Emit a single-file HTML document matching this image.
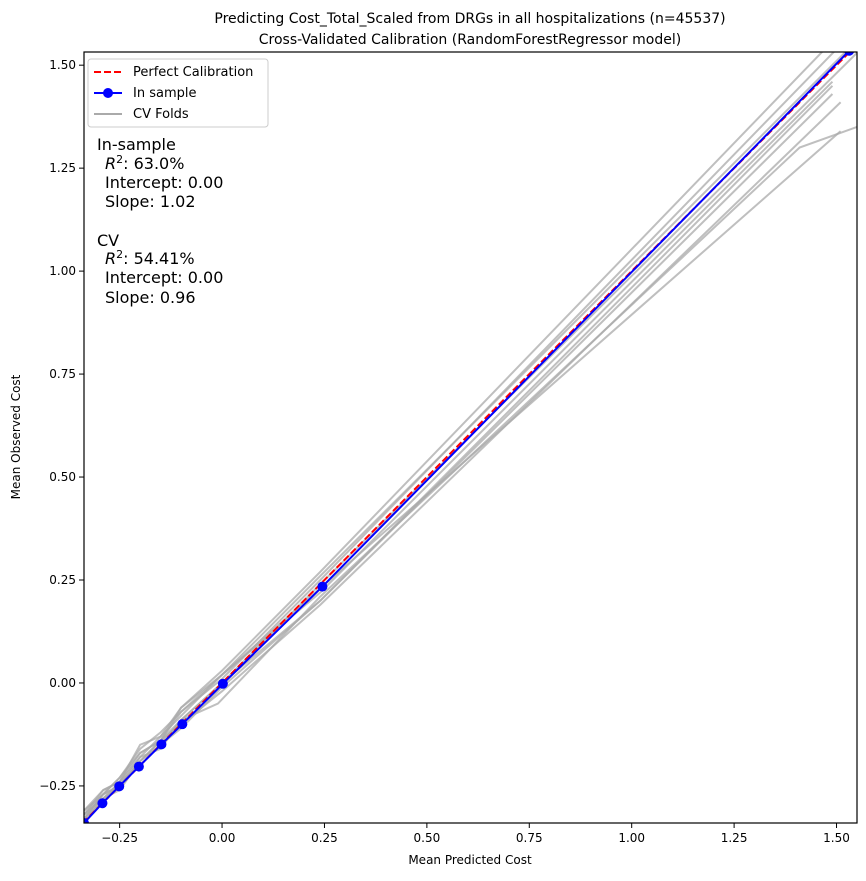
<!DOCTYPE html>
<html><head><meta charset="utf-8"><style>
body{margin:0;background:#fff;font-family:"Liberation Sans","DejaVu Sans",sans-serif}
svg text{font-family:"DejaVu Sans","Liberation Sans",sans-serif}
</style></head><body>
<svg id="chart" width="866" height="876" viewBox="0 0 866 876" xmlns="http://www.w3.org/2000/svg">
<g id="plot"></g>
</svg>
<script>
const xTicks=[-0.25,0,0.25,0.5,0.75,1.0,1.25,1.5];
const yTicks=[-0.25,0,0.25,0.5,0.75,1.0,1.25,1.5];
const xTickLabels=["−0.25","0.00","0.25","0.50","0.75","1.00","1.25","1.50"];
const yTickLabels=["−0.25","0.00","0.25","0.50","0.75","1.00","1.25","1.50"];
const inX=[-0.337,-0.292,-0.251,-0.203,-0.148,-0.097,0.002,0.245,1.531];
const inY=[-0.340,-0.292,-0.251,-0.203,-0.149,-0.100,-0.002,0.234,1.535];
const perfect=[-0.34,1.55];
const foldX=[
[-0.337,-0.29,-0.25,-0.2,-0.15,-0.1,0.0,0.24,1.55],
[-0.337,-0.29,-0.25,-0.2,-0.15,-0.1,0.0,0.24,1.55],
[-0.337,-0.29,-0.25,-0.2,-0.15,-0.1,0.0,0.24,1.55],
[-0.337,-0.29,-0.25,-0.2,-0.15,-0.1,0.0,0.24,1.49],
[-0.337,-0.29,-0.25,-0.2,-0.15,-0.1,0.0,0.24,1.49],
[-0.337,-0.29,-0.25,-0.2,-0.15,-0.1,0.0,0.24,1.51],
[-0.337,-0.29,-0.25,-0.2,-0.15,-0.1,-0.01,0.24,1.41,1.55],
[-0.337,-0.29,-0.25,-0.2,-0.15,-0.1,0.0,0.24,1.51],
[-0.337,-0.29,-0.25,-0.2,-0.15,-0.1,0.0,0.24,1.55],
[-0.337,-0.29,-0.25,-0.2,-0.15,-0.1,0.0,0.24,1.49]
];
const foldY=[
[-0.31,-0.26,-0.24,-0.15,-0.13,-0.06,0.03,0.27,1.62],
[-0.32,-0.27,-0.23,-0.17,-0.14,-0.07,0.01,0.25,1.59],
[-0.33,-0.28,-0.25,-0.19,-0.15,-0.09,0.0,0.24,1.53],
[-0.32,-0.26,-0.24,-0.18,-0.13,-0.08,0.02,0.22,1.46],
[-0.33,-0.29,-0.24,-0.2,-0.15,-0.11,-0.01,0.2,1.43],
[-0.34,-0.28,-0.26,-0.19,-0.14,-0.1,-0.02,0.19,1.41],
[-0.33,-0.27,-0.25,-0.18,-0.16,-0.09,-0.05,0.21,1.30,1.35],
[-0.32,-0.28,-0.24,-0.17,-0.14,-0.06,0.02,0.23,1.34],
[-0.31,-0.27,-0.23,-0.16,-0.12,-0.07,0.02,0.26,1.56],
[-0.33,-0.27,-0.25,-0.19,-0.14,-0.09,0.0,0.2,1.45]
];
const L=84,R=857,T=52,B=823,x0=-0.337,x1=1.55,y0=-0.340,y1=1.532;
const sx=v=>L+(v-x0)/(x1-x0)*(R-L);
const sy=v=>B-(v-y0)/(y1-y0)*(B-T);
const NS="http://www.w3.org/2000/svg";
const g=document.getElementById('plot');
function mk(tag,attrs,parent){const e=document.createElementNS(NS,tag);for(const k in attrs)e.setAttribute(k,attrs[k]);(parent||g).appendChild(e);return e;}
const defs=mk('defs',{});
const cp=mk('clipPath',{id:'clip'},defs);mk('rect',{x:L,y:T,width:R-L,height:B-T},cp);
const data=mk('g',{'clip-path':'url(#clip)'});


foldX.forEach((xs,i)=>{
  const p=mk('polyline',{points:xs.map((x,j)=>sx(x)+','+sy(foldY[i][j])).join(' '),fill:'none',stroke:'#aaa','stroke-opacity':0.75,'stroke-width':2},data);
  
  
});
const pl=mk('line',{x1:sx(perfect[0]),y1:sy(perfect[0]),x2:sx(perfect[1]),y2:sy(perfect[1]),stroke:'red','stroke-width':2,'stroke-dasharray':'7,3'},data);


const bl=mk('polyline',{points:inX.map((x,j)=>sx(x)+','+sy(inY[j])).join(' '),fill:'none',stroke:'blue','stroke-width':2},data);


inX.forEach((x,j)=>{const c=mk('circle',{cx:sx(x),cy:sy(inY[j]),r:5,fill:'blue'},data);
  
  });
const fr=mk('rect',{x:L,y:T,width:R-L,height:B-T,fill:'none',stroke:'#000','stroke-width':1.2});


xTicks.forEach((t,i)=>{const x=sx(t);mk('line',{x1:x,y1:B,x2:x,y2:B+5,stroke:'#000'});
  const tx=mk('text',{x:x,y:B+19,'font-size':12,'text-anchor':'middle'});tx.textContent=xTickLabels[i];
  
  });
yTicks.forEach((t,i)=>{const y=sy(t);mk('line',{x1:L-5,y1:y,x2:L,y2:y,stroke:'#000'});
  const tx=mk('text',{x:L-8,y:y+4,'font-size':12,'text-anchor':'end'});tx.textContent=yTickLabels[i];
  
  });
</script>
<svg style="position:absolute;left:0;top:0" width="866" height="876">
<text x="470" y="23" font-size="14" text-anchor="middle">Predicting Cost_Total_Scaled from DRGs in all hospitalizations (n=45537)</text>
<text x="470" y="44" font-size="14" text-anchor="middle">Cross-Validated Calibration (RandomForestRegressor model)</text>
<text x="470" y="864" font-size="12" text-anchor="middle">Mean Predicted Cost</text>
<text transform="translate(20,437) rotate(-90)" font-size="12" text-anchor="middle">Mean Observed Cost</text>
<g>
<rect x="88" y="59" width="180" height="68" rx="3" fill="#fff" fill-opacity="0.8" stroke="#ccc"/>
<line x1="94" y1="72" x2="122" y2="72" stroke="red" stroke-width="2" stroke-dasharray="7,3"/>
<text x="133" y="76" font-size="13">Perfect Calibration</text>
<line x1="94" y1="93" x2="122" y2="93" stroke="blue" stroke-width="2"/><circle cx="108" cy="93" r="5" fill="blue"/>
<text x="133" y="97" font-size="13">In sample</text>
<line x1="94" y1="114" x2="122" y2="114" stroke="#aaa" stroke-width="2"/>
<text x="133" y="118" font-size="13">CV Folds</text>
</g>
<g font-size="16">
<text x="97" y="150">In-sample</text>
<text x="105" y="169"><tspan font-style="italic">R</tspan><tspan font-size="11" dy="-6">2</tspan><tspan dy="6">: 63.0%</tspan></text>
<text x="105" y="188">Intercept: 0.00</text>
<text x="105" y="207">Slope: 1.02</text>
<text x="97" y="246">CV</text>
<text x="105" y="264"><tspan font-style="italic">R</tspan><tspan font-size="11" dy="-6">2</tspan><tspan dy="6">: 54.41%</tspan></text>
<text x="105" y="283">Intercept: 0.00</text>
<text x="105" y="303">Slope: 0.96</text>
</g>
</svg>
</body></html>
